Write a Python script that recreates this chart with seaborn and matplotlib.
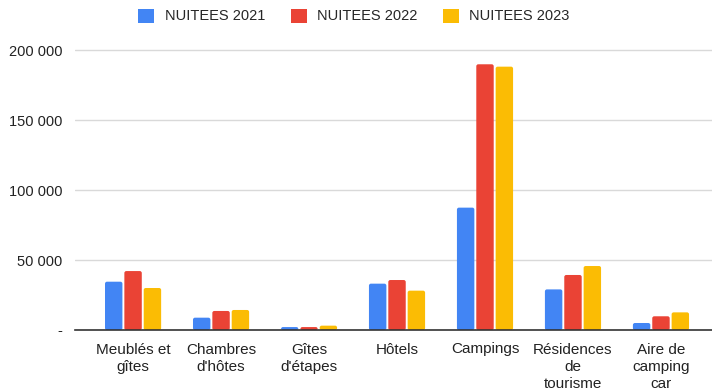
import matplotlib
matplotlib.use("Agg")
import matplotlib.pyplot as plt
import matplotlib.ticker as mticker
from matplotlib.patches import FancyBboxPatch
import seaborn as sns
import pandas as pd

categories = ["Meublés et\ngîtes", "Chambres\nd'hôtes", "Gîtes\nd'étapes", "Hôtels",
              "Campings", "Résidences\nde\ntourisme", "Aire de\ncamping\ncar"]
series_names = ["NUITEES 2021", "NUITEES 2022", "NUITEES 2023"]
nuitees_2021 = [34500, 8800, 2100, 33100, 87400, 29000, 5000]
nuitees_2022 = [42100, 13600, 2100, 35700, 189800, 39300, 9800]
nuitees_2023 = [30000, 14300, 3100, 28100, 188100, 45700, 12600]
colors = ["#4285F4", "#EA4335", "#FBBC04"]
y_ticks = [0, 50000, 100000, 150000, 200000]

rows = []
for name, vals in zip(series_names, [nuitees_2021, nuitees_2022, nuitees_2023]):
    for cat, v in zip(categories, vals):
        rows.append({"cat": cat, "serie": name, "val": v})
df = pd.DataFrame(rows)

sns.set_theme(style="white")
plt.rcParams["font.family"] = ["Liberation Sans", "DejaVu Sans"]

W, H = 712, 391
fig = plt.figure(figsize=(W / 100, H / 100), dpi=100)
ax_px = (75, 40, 637, 290)  # left, top, width, height in pixels
ax = fig.add_axes([ax_px[0] / W, 1 - (ax_px[1] + ax_px[3]) / H, ax_px[2] / W, ax_px[3] / H])

sns.barplot(data=df, x="cat", y="val", hue="serie", palette=colors,
            width=0.66, gap=0.1, ax=ax, legend=False, saturation=1)

ymax = 200000 * ax_px[3] / 280
xmin, xmax = -0.66, len(categories) - 1 + 0.58

# soften bar tops with small rounded corners
x_per_px = (xmax - xmin) / ax_px[2]
y_per_px = ymax / ax_px[3]
for p in list(ax.patches):
    x, y = p.get_x(), p.get_y()
    w, h = p.get_width(), p.get_height()
    fb = FancyBboxPatch((x, y), w, h,
                        boxstyle=f"round,pad=0,rounding_size={2 * x_per_px}",
                        mutation_aspect=y_per_px / x_per_px,
                        facecolor=p.get_facecolor(), edgecolor="none", zorder=p.get_zorder())
    p.remove()
    ax.add_patch(fb)

ax.set_ylim(0, ymax)
ax.set_xlim(xmin, xmax)
ax.set_yticks(y_ticks)
ax.yaxis.set_major_formatter(mticker.FuncFormatter(
    lambda v, p: "-" if v == 0 else f"{int(v):,}".replace(",", " ")))
ax.grid(axis="y", color="#d9d9d9", linewidth=1)
ax.set_axisbelow(True)
for s in ["top", "right", "left"]:
    ax.spines[s].set_visible(False)
ax.spines["bottom"].set_color("#333333")
ax.spines["bottom"].set_linewidth(1.2)
ax.spines["bottom"].set_zorder(5)
ax.tick_params(axis="both", length=0, colors="#222222")
ax.tick_params(axis="y", pad=9, labelsize=10.5)
ax.tick_params(axis="x", pad=9, labelsize=11)
ax.set_xlabel("")
ax.set_ylabel("")
for lbl in ax.get_xticklabels():
    lbl.set_linespacing(1.3)

handles = [plt.Rectangle((0, 0), 1, 1, facecolor=c, edgecolor="none") for c in colors]
fig.legend(handles, series_names, loc="center", bbox_to_anchor=(0.497, 1 - 16 / H),
           ncol=3, frameon=False, fontsize=10.5, handlelength=1.1, handleheight=1.1,
           columnspacing=1.75, handletextpad=0.7)

fig.savefig("out.png", dpi=100)
